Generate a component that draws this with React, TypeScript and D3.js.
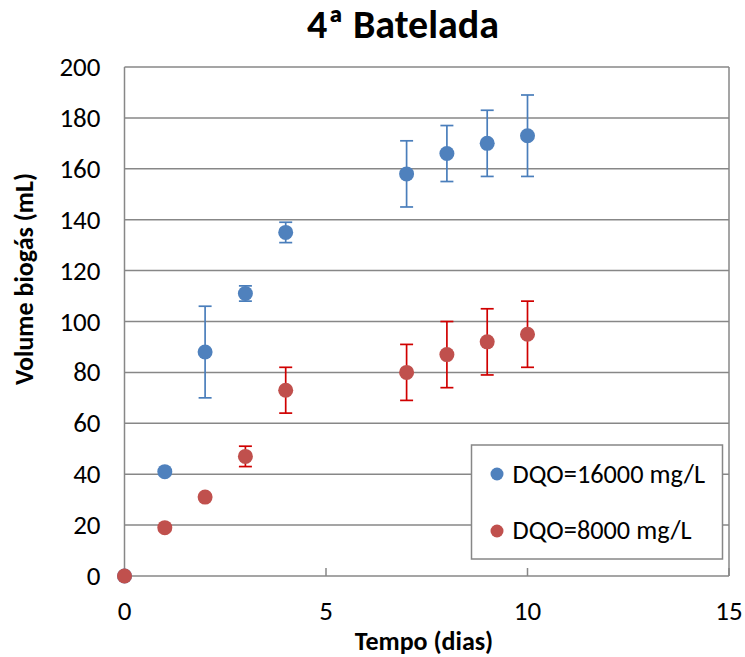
import { scaleLinear } from "d3";

const WIDTH = 745;
const HEIGHT = 657;
const PLOT = { left: 124.5, right: 729, top: 67, bottom: 576 };

const days = [0, 1, 2, 3, 4, 7, 8, 9, 10];
const dqo16000 = [0, 41, 88, 111, 135, 158, 166, 170, 173];
const dqo16000Low = [0, 41, 70, 108, 131, 145, 155, 157, 157];
const dqo16000High = [0, 41, 106, 114, 139, 171, 177, 183, 189];
const dqo8000 = [0, 19, 31, 47, 73, 80, 87, 92, 95];
const dqo8000Low = [0, 19, 31, 43, 64, 69, 74, 79, 82];
const dqo8000High = [0, 19, 31, 51, 82, 91, 100, 105, 108];

const xTicks = [0, 5, 10, 15];
const yTicks = [0, 20, 40, 60, 80, 100, 120, 140, 160, 180, 200];

const series = [
  { name: "DQO=16000 mg/L", values: dqo16000, low: dqo16000Low, high: dqo16000High, color: "#4F81BD", errColor: "#4A7EBB" },
  { name: "DQO=8000 mg/L", values: dqo8000, low: dqo8000Low, high: dqo8000High, color: "#C0504D", errColor: "#D00000" },
];

const FONT = "Carlito, 'Open Sans', 'Liberation Sans', sans-serif";

export default function App() {
  const x = scaleLinear().domain([0, 15]).range([PLOT.left, PLOT.right]);
  const y = scaleLinear().domain([0, 200]).range([PLOT.bottom, PLOT.top]);

  return (
    <svg width={WIDTH} height={HEIGHT} style={{ display: "block", position: "absolute", left: 0, top: 0 }} fontFamily={FONT}>
      <rect width={WIDTH} height={HEIGHT} fill="#fff" />
      <text x={403} y={38} textAnchor="middle" fontSize={40} fontWeight="bold">4ª Batelada</text>

      {yTicks.map((t) => (
        <g key={t}>
          <line x1={PLOT.left} x2={PLOT.right} y1={y(t)} y2={y(t)} stroke="#878787" strokeWidth={1.5} />
          <text x={100.5} y={y(t) + 9} textAnchor="end" fontSize={27}>{t}</text>
        </g>
      ))}
      <line x1={PLOT.left} x2={PLOT.left} y1={PLOT.top} y2={PLOT.bottom} stroke="#878787" strokeWidth={1.5} />
      <line x1={PLOT.right} x2={PLOT.right} y1={PLOT.top} y2={PLOT.bottom} stroke="#878787" strokeWidth={1.5} />
      {xTicks.map((t) => (
        <g key={t}>
          <line x1={x(t)} x2={x(t)} y1={PLOT.bottom - 8} y2={PLOT.bottom} stroke="#878787" strokeWidth={1.5} />
          <text x={x(t)} y={620} textAnchor="middle" fontSize={27}>{t}</text>
        </g>
      ))}

      <text x={424} y={650} textAnchor="middle" fontSize={26} fontWeight="bold">Tempo (dias)</text>
      <text transform="translate(33, 279) rotate(-90)" textAnchor="middle" fontSize={26} fontWeight="bold">
        Volume biogás (mL)
      </text>

      {series.map((s) => (
        <g key={s.name}>
          {days.map((d, i) =>
            s.high[i] > s.low[i] ? (
              <g key={d} stroke={s.errColor} strokeWidth={1.7}>
                <line x1={x(d)} x2={x(d)} y1={y(s.low[i])} y2={y(s.high[i])} />
                <line x1={x(d) - 6.5} x2={x(d) + 6.5} y1={y(s.low[i])} y2={y(s.low[i])} />
                <line x1={x(d) - 6.5} x2={x(d) + 6.5} y1={y(s.high[i])} y2={y(s.high[i])} />
              </g>
            ) : null
          )}
          {days.map((d, i) => (
            <circle key={d} cx={x(d)} cy={y(s.values[i])} r={7.5} fill={s.color} />
          ))}
        </g>
      ))}

      <rect x={471.5} y={445} width={251} height={114} fill="#fff" stroke="#878787" strokeWidth={1.5} />
      {series.map((s, i) => (
        <g key={s.name}>
          <circle cx={497} cy={474 + i * 57} r={6.5} fill={s.color} />
          <text x={512.5} y={483 + i * 56} fontSize={26.3}>{s.name}</text>
        </g>
      ))}
    </svg>
  );
}
